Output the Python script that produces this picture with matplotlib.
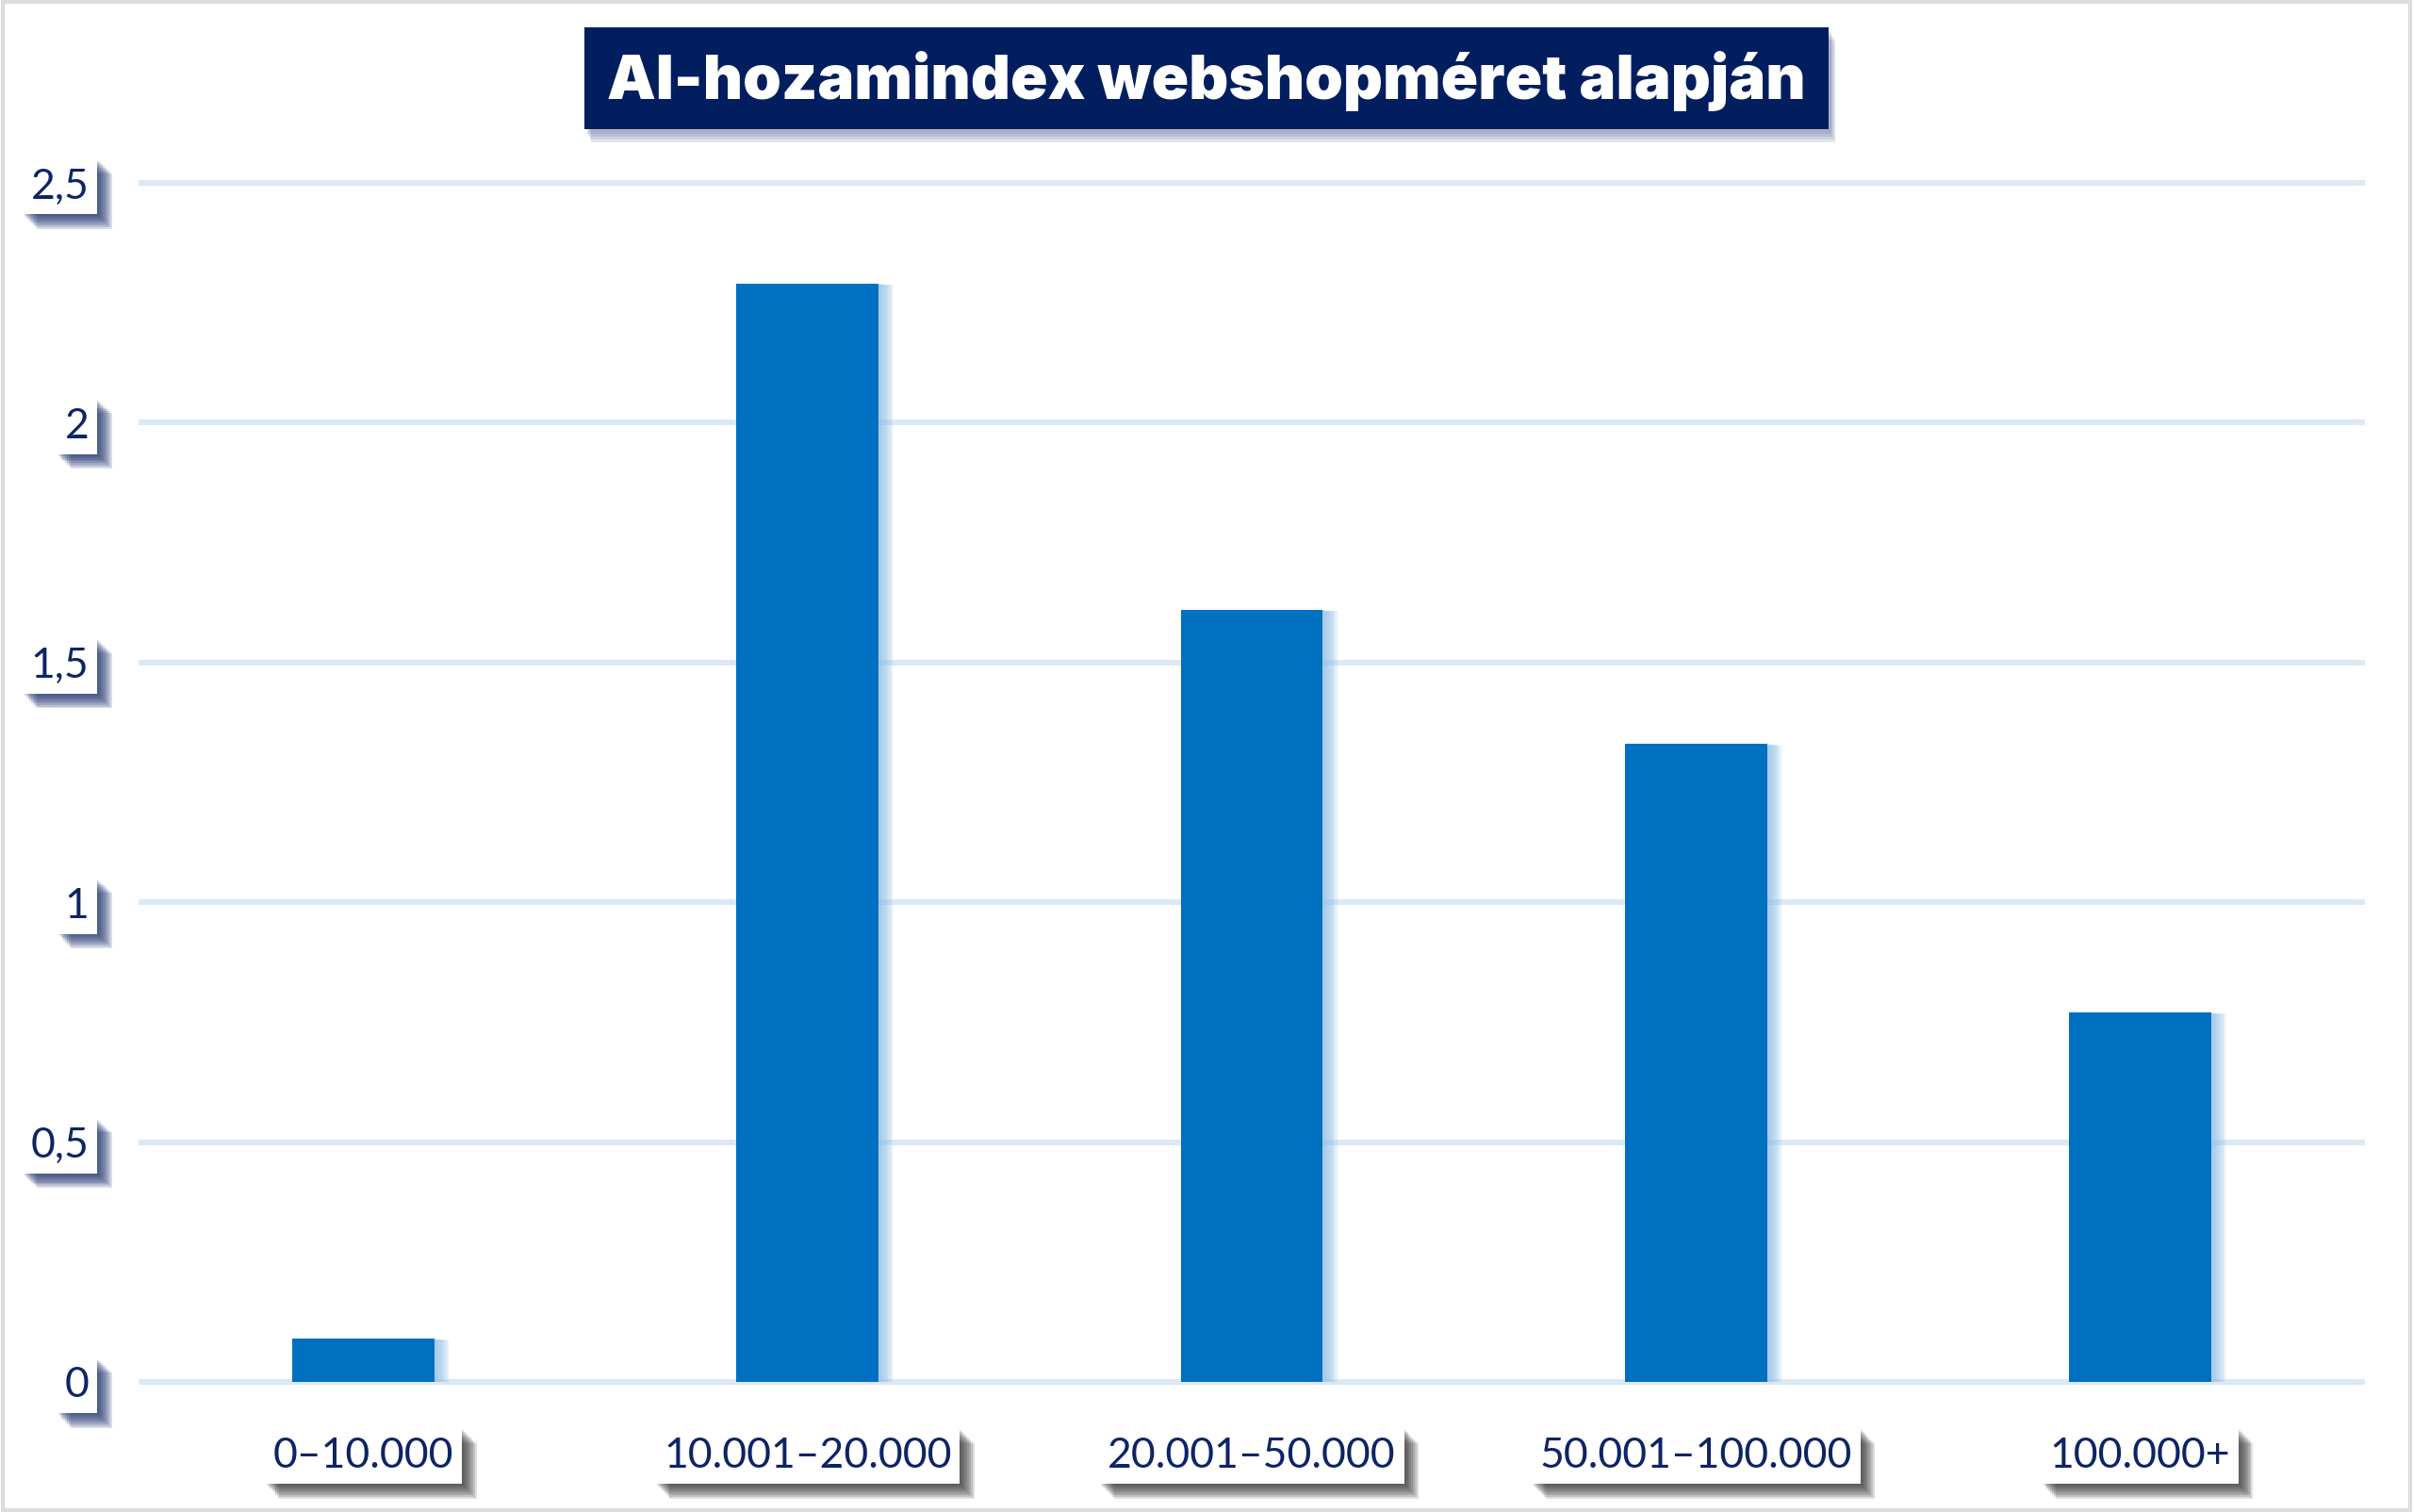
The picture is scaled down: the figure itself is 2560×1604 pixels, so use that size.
import matplotlib
matplotlib.use("Agg")
import matplotlib.pyplot as plt
import matplotlib.patheffects as pe
from matplotlib.patches import Rectangle

# data
categories = ["0–10.000", "10.001–20.000", "20.001–50.000", "50.001–100.000", "100.000+"]
values = [0.09, 2.29, 1.61, 1.33, 0.77]
yticks = [0, 0.5, 1, 1.5, 2, 2.5]
ytick_labels = ["0", "0,5", "1", "1,5", "2", "2,5"]
title = "AI-hozamindex webshopméret alapján"

navy = "#021e5e"
label_col = "#0d2466"
bar_col = "#0070c0"
grid_col = "#dbe8f5"

W, H = 2560, 1604
fig = plt.figure(figsize=(W / 100, H / 100), dpi=100)
fig.patch.set_facecolor("white")

# axes placed so 0 sits at y=1466px and 2.5 at y=194px
ax = fig.add_axes([150 / W, 1 - 1466 / H, 2356 / W, (1466 - 194) / H])
ax.set_xlim(-0.5, len(categories) - 0.5)
ax.set_ylim(0, 2.5)
for s in ax.spines.values():
    s.set_visible(False)

for y in yticks:
    ax.axhline(y, color=grid_col, lw=4.3, zorder=1, clip_on=False)


def soft_shadow(color, dx, dy, steps, alpha):
    # stack of shifted copies, fakes a blurred drop shadow
    fx = []
    for i in range(steps, 0, -1):
        f = i / steps
        fx.append(pe.SimplePatchShadow(offset=(dx * f, dy * f), shadow_rgbFace=color,
                                       alpha=alpha))
    fx.append(pe.Normal())
    return fx


x = list(range(len(categories)))
bars = ax.bar(x, values, width=0.32, color=bar_col, zorder=3)
for b in bars:
    b.set_path_effects(soft_shadow("#8fbfe8", 11, -1, 6, 0.22))

# tick labels in white boxes with a drop shadow
ax.set_xticks(x)
ax.set_xticklabels(categories)
ax.set_yticks(yticks)
ax.set_yticklabels(ytick_labels)
ax.tick_params(axis="both", length=0)
ax.tick_params(axis="x", pad=42)
ax.tick_params(axis="y", pad=40)


def box_label(lbl, shadow):
    lbl.set_fontfamily("Lato")
    lbl.set_fontsize(32)
    lbl.set_color(label_col)
    lbl.set_bbox(dict(boxstyle="square,pad=0.2", fc="white", ec="none"))
    lbl.get_bbox_patch().set_path_effects(soft_shadow(shadow, 11, -11, 8, 0.16))


for lbl in ax.get_xticklabels():
    box_label(lbl, "#2e2e2e")
for lbl in ax.get_yticklabels():
    box_label(lbl, "#17296a")

# title banner
tx0, tx1, ty0, ty1 = 620, 1940, 29, 137
for off in [14, 11, 8, 5]:
    fig.patches.append(Rectangle(((tx0 + off * 0.5) / W, 1 - (ty1 + off) / H),
                                 (tx1 - tx0) / W, (ty1 - ty0) / H,
                                 transform=fig.transFigure, fc="#34457f", ec="none", alpha=0.13))
fig.patches.append(Rectangle((tx0 / W, 1 - ty1 / H), (tx1 - tx0) / W, (ty1 - ty0) / H,
                             transform=fig.transFigure, fc=navy, ec="none"))
fig.text((tx0 + tx1) / 2 / W, 1 - 86 / H, title, ha="center", va="center",
         color="white", fontsize=47, fontweight="black", family="Inter")

# light grey frame around the picture
fig.patches.append(Rectangle((0.001, 0.001), 0.998, 0.998, transform=fig.transFigure,
                             fc="none", ec="#dcdcdc", lw=3))

fig.savefig("out.png", dpi=100, facecolor="white")
